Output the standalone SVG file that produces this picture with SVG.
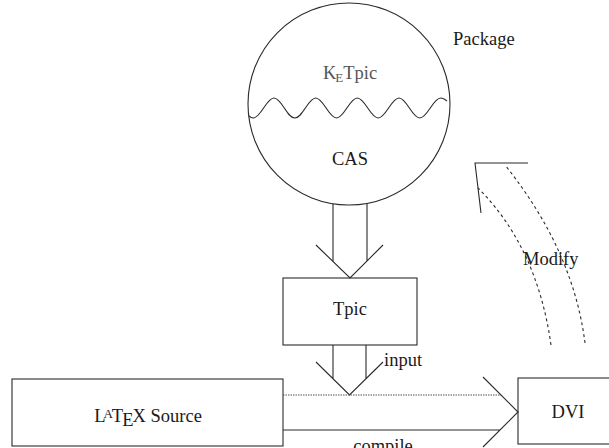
<svg xmlns="http://www.w3.org/2000/svg" width="609" height="448" viewBox="0 0 609 448">
<style>
.ln{fill:none;stroke:#2a2a2a;stroke-width:1.1}
.box{fill:#fff;stroke:#2a2a2a;stroke-width:1.1}
.dash{fill:none;stroke:#2a2a2a;stroke-width:1.1;stroke-dasharray:3,3}
.dot{fill:none;stroke:#555;stroke-width:1.1;stroke-dasharray:1.5,1}
.t{font-family:'Liberation Serif','Times New Roman',serif;font-size:18.5px;fill:#1a1a1a}
.c{text-anchor:middle}
</style>
<rect width="609" height="448" fill="#fff"/>
<g id="package">
<circle cx="349" cy="104" r="101" class="ln"/>
<path class="ln" d="M249,116 C250.5,117.4 251.8,118 253.2,118 C260.8,118 266.4,98 274,98 S286.8,118 294.8,118 S308.1,98 315.7,98 S328.9,118 336.5,118 S349.7,98 357.3,98 S370.6,118 378.2,118 S391.4,98 399,98 S412.2,118 419.8,118 S433.1,98 440.7,98 C443.2,98 445,99.3 447,101"/>
<text x="350" y="79" class="t c" style="fill:#555">K<tspan font-size="13" dx="-1" dy="3">E</tspan><tspan dx="0" dy="-3">Tpic</tspan></text>
<text x="350" y="165" class="t c">CAS</text>
<text x="453" y="45" class="t">Package</text>
</g>
<g id="tpic">
<rect x="283" y="278" width="134" height="67" class="box"/>
<text x="350" y="315" class="t c">Tpic</text>
</g>
<g id="latex">
<rect x="12" y="379" width="271" height="67" class="box"/>
<text x="148" y="422" class="t c">L<tspan font-size="13" dx="-2" dy="-4">A</tspan><tspan dx="-1" dy="4">T</tspan><tspan dx="-1" dy="4">E</tspan><tspan dx="-1" dy="-4">X Source</tspan></text>
</g>
<g id="dvi">
<rect x="518" y="378" width="95" height="66" class="box"/>
<text x="568" y="418" class="t c">DVI</text>
</g>
<g id="connectors">
<path class="ln" d="M333,204 V261 M367,204 V261 M316,245 L350,278 L383,245"/>
<path class="ln" d="M333,345 V379 M366,345 V379 M316,362 L349.5,395 L383,362"/>
<text x="384" y="366" class="t">input</text>
<path class="dot" d="M283,395 H501"/>
<path class="ln" d="M283,430 H500 M483,377 L518,412 L483,447"/>
<text x="383" y="452" class="t c">compile</text>
<path class="dash" d="M551,345 Q537.3,247.3 478,188"/>
<path class="dash" d="M585,343 Q573.4,250.6 505,165"/>
<path class="ln" d="M528,163 H475 L481,213"/>
<text x="523" y="265" class="t">Modify</text>
</g>
</svg>
